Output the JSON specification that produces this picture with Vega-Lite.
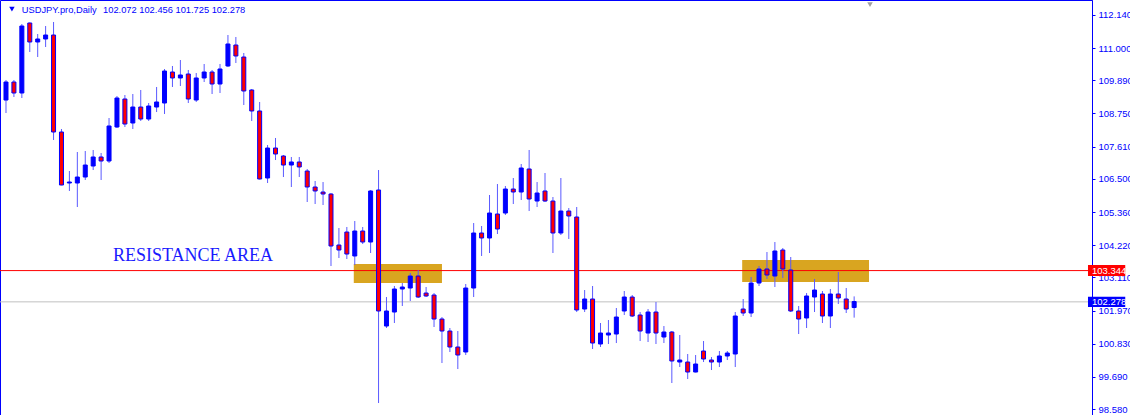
{
  "$schema": "https://vega.github.io/schema/vega-lite/v6.json",
  "width": 1092,
  "height": 415,
  "autosize": "none",
  "padding": {"left": 0, "top": 0, "right": 38, "bottom": 0},
  "background": "white",
  "config": {
    "view": {"stroke": "#0000ff", "strokeWidth": 1},
    "axisY": {"orient": "right", "format": ".3f", "grid": false, "domainColor": "#0000ff", "tickColor": "#0000ff", "tickSize": 3,
      "labelColor": "#0000ff", "labelFont": "Liberation Sans", "labelFontSize": 9.5, "labelPadding": 3,
      "labelFlush": false, "labelOverlap": false, "labelBound": false}
  },
  "datasets": {
    "candles": [
      {"i":1,"o":109.214,"h":109.903,"l":108.767,"c":109.834},
      {"i":2,"o":109.834,"h":109.903,"l":109.318,"c":109.455},
      {"i":3,"o":109.455,"h":111.830,"l":109.283,"c":111.761},
      {"i":4,"o":111.864,"h":111.880,"l":110.866,"c":111.211},
      {"i":5,"o":111.211,"h":111.486,"l":110.694,"c":111.314},
      {"i":6,"o":111.314,"h":111.761,"l":111.038,"c":111.451},
      {"i":7,"o":111.451,"h":111.899,"l":107.838,"c":108.113},
      {"i":8,"o":108.113,"h":108.216,"l":106.280,"c":106.289},
      {"i":9,"o":106.358,"h":106.771,"l":106.083,"c":106.392},
      {"i":10,"o":106.358,"h":107.425,"l":105.532,"c":106.564},
      {"i":11,"o":106.564,"h":107.459,"l":106.461,"c":106.977},
      {"i":12,"o":106.943,"h":107.494,"l":106.805,"c":107.253},
      {"i":13,"o":107.253,"h":107.390,"l":106.461,"c":107.115},
      {"i":14,"o":107.115,"h":108.595,"l":107.046,"c":108.320},
      {"i":15,"o":108.285,"h":109.352,"l":108.251,"c":109.283},
      {"i":16,"o":109.249,"h":109.386,"l":108.285,"c":108.388},
      {"i":17,"o":108.423,"h":109.421,"l":108.216,"c":108.973},
      {"i":18,"o":108.973,"h":109.559,"l":108.492,"c":108.560},
      {"i":19,"o":108.560,"h":109.111,"l":108.492,"c":109.008},
      {"i":20,"o":108.973,"h":109.662,"l":108.801,"c":109.146},
      {"i":21,"o":109.111,"h":110.281,"l":108.733,"c":110.212},
      {"i":22,"o":110.178,"h":110.385,"l":109.662,"c":109.972},
      {"i":23,"o":109.972,"h":110.591,"l":109.696,"c":110.075},
      {"i":24,"o":110.109,"h":110.247,"l":109.111,"c":109.249},
      {"i":25,"o":109.214,"h":110.144,"l":109.146,"c":109.972},
      {"i":26,"o":109.972,"h":110.453,"l":109.834,"c":110.178},
      {"i":27,"o":110.178,"h":110.247,"l":109.421,"c":109.765},
      {"i":28,"o":109.765,"h":110.453,"l":109.455,"c":110.281},
      {"i":29,"o":110.385,"h":111.451,"l":110.350,"c":111.142},
      {"i":30,"o":111.107,"h":111.383,"l":110.488,"c":110.729},
      {"i":31,"o":110.694,"h":110.832,"l":109.042,"c":109.524},
      {"i":32,"o":109.559,"h":109.593,"l":108.492,"c":108.836},
      {"i":33,"o":108.836,"h":109.146,"l":106.480,"c":106.496},
      {"i":34,"o":106.530,"h":107.666,"l":106.358,"c":107.562},
      {"i":35,"o":107.562,"h":107.907,"l":107.149,"c":107.356},
      {"i":36,"o":107.287,"h":107.322,"l":106.564,"c":106.977},
      {"i":37,"o":106.977,"h":107.253,"l":106.220,"c":107.081},
      {"i":38,"o":107.081,"h":107.253,"l":106.564,"c":106.909},
      {"i":39,"o":106.771,"h":106.840,"l":105.704,"c":106.220},
      {"i":40,"o":106.220,"h":106.427,"l":105.635,"c":106.083},
      {"i":41,"o":106.048,"h":106.392,"l":105.601,"c":105.979},
      {"i":42,"o":105.979,"h":106.014,"l":103.501,"c":104.190},
      {"i":43,"o":104.224,"h":104.809,"l":103.777,"c":104.052},
      {"i":44,"o":104.671,"h":104.844,"l":103.742,"c":103.914},
      {"i":45,"o":103.846,"h":105.050,"l":103.536,"c":104.706},
      {"i":46,"o":104.706,"h":104.844,"l":104.258,"c":104.327},
      {"i":47,"o":104.327,"h":106.117,"l":103.949,"c":106.083},
      {"i":48,"o":106.117,"h":106.805,"l":98.786,"c":101.953},
      {"i":49,"o":101.436,"h":102.434,"l":101.368,"c":101.953},
      {"i":50,"o":101.918,"h":102.813,"l":101.540,"c":102.710},
      {"i":51,"o":102.710,"h":102.916,"l":102.125,"c":102.779},
      {"i":52,"o":102.744,"h":103.260,"l":102.297,"c":103.157},
      {"i":53,"o":103.157,"h":103.364,"l":102.400,"c":102.434},
      {"i":54,"o":102.572,"h":102.779,"l":102.434,"c":102.469},
      {"i":55,"o":102.503,"h":102.572,"l":101.402,"c":101.677},
      {"i":56,"o":101.677,"h":101.746,"l":100.163,"c":101.264},
      {"i":57,"o":101.264,"h":101.368,"l":100.542,"c":100.714},
      {"i":58,"o":100.714,"h":101.264,"l":99.956,"c":100.438},
      {"i":59,"o":100.542,"h":102.882,"l":100.438,"c":102.744},
      {"i":60,"o":102.744,"h":104.981,"l":102.434,"c":104.637},
      {"i":61,"o":104.637,"h":104.878,"l":103.846,"c":104.465},
      {"i":62,"o":104.465,"h":105.945,"l":103.949,"c":105.325},
      {"i":63,"o":105.291,"h":106.323,"l":104.603,"c":104.775},
      {"i":64,"o":105.325,"h":106.255,"l":105.257,"c":106.151},
      {"i":65,"o":106.151,"h":106.530,"l":105.635,"c":106.048},
      {"i":66,"o":106.048,"h":107.012,"l":105.773,"c":106.874},
      {"i":67,"o":106.840,"h":107.494,"l":105.394,"c":105.807},
      {"i":68,"o":105.738,"h":106.392,"l":105.532,"c":106.014},
      {"i":69,"o":106.083,"h":106.702,"l":105.704,"c":105.738},
      {"i":70,"o":105.738,"h":105.876,"l":103.949,"c":104.637},
      {"i":71,"o":104.637,"h":106.530,"l":104.568,"c":105.394},
      {"i":72,"o":105.394,"h":105.497,"l":104.431,"c":105.222},
      {"i":73,"o":105.188,"h":105.532,"l":101.918,"c":101.987},
      {"i":74,"o":102.021,"h":102.675,"l":101.918,"c":102.366},
      {"i":75,"o":102.366,"h":102.813,"l":100.645,"c":100.851},
      {"i":76,"o":100.817,"h":101.540,"l":100.714,"c":101.195},
      {"i":77,"o":101.127,"h":101.643,"l":100.817,"c":101.195},
      {"i":78,"o":101.161,"h":102.056,"l":100.851,"c":101.746},
      {"i":79,"o":101.953,"h":102.641,"l":101.815,"c":102.434},
      {"i":80,"o":102.434,"h":102.503,"l":101.746,"c":101.781},
      {"i":81,"o":101.815,"h":101.918,"l":100.920,"c":101.264},
      {"i":82,"o":101.195,"h":102.021,"l":100.886,"c":101.918},
      {"i":83,"o":101.918,"h":102.262,"l":100.817,"c":101.195},
      {"i":84,"o":101.058,"h":101.436,"l":100.851,"c":101.230},
      {"i":85,"o":101.230,"h":101.264,"l":99.475,"c":100.232},
      {"i":86,"o":100.197,"h":101.127,"l":100.025,"c":100.266},
      {"i":87,"o":100.197,"h":100.473,"l":99.612,"c":99.853},
      {"i":88,"o":99.853,"h":100.438,"l":99.840,"c":100.129},
      {"i":89,"o":100.576,"h":100.920,"l":100.197,"c":100.301},
      {"i":90,"o":100.266,"h":100.369,"l":99.922,"c":100.197},
      {"i":91,"o":100.197,"h":100.576,"l":100.025,"c":100.404},
      {"i":92,"o":100.404,"h":100.576,"l":100.266,"c":100.507},
      {"i":93,"o":100.473,"h":101.918,"l":100.025,"c":101.781},
      {"i":94,"o":102.021,"h":102.366,"l":101.781,"c":101.884},
      {"i":95,"o":101.884,"h":103.123,"l":101.746,"c":102.916},
      {"i":96,"o":102.916,"h":103.501,"l":102.813,"c":103.398},
      {"i":97,"o":103.398,"h":103.983,"l":103.054,"c":103.192},
      {"i":98,"o":103.157,"h":104.327,"l":102.779,"c":104.018},
      {"i":99,"o":104.052,"h":104.121,"l":103.088,"c":103.398},
      {"i":100,"o":103.364,"h":103.811,"l":101.918,"c":101.953},
      {"i":101,"o":101.953,"h":102.125,"l":101.161,"c":101.677},
      {"i":102,"o":101.712,"h":102.572,"l":101.368,"c":102.469},
      {"i":103,"o":102.434,"h":103.054,"l":101.918,"c":102.675},
      {"i":104,"o":102.538,"h":102.641,"l":101.540,"c":101.781},
      {"i":105,"o":101.781,"h":102.710,"l":101.368,"c":102.538},
      {"i":106,"o":102.538,"h":103.295,"l":102.194,"c":102.400},
      {"i":107,"o":102.366,"h":102.744,"l":101.884,"c":102.021},
      {"i":108,"o":102.072,"h":102.456,"l":101.725,"c":102.278}
    ],
    "zones": [
      {"x1": 44.875, "x2": 56.0, "y1": 103.570, "y2": 102.916},
      {"x1": 93.875, "x2": 109.875, "y1": 103.708, "y2": 102.951}
    ],
    "levels": [
      {"y": 103.344, "col": "#ff0000"},
      {"y": 102.268, "col": "#c0c0c0"}
    ],
    "tags": [
      {"x1": 137.5, "x2": 142.2, "y1": 103.536, "y2": 103.157, "y": 103.344, "label": "103.344", "col": "#ff0000"},
      {"x1": 137.5, "x2": 142.2, "y1": 102.446, "y2": 102.090, "y": 102.268, "label": "102.278", "col": "#0000ff"}
    ]
  },
  "layer": [
    {
      "data": {"name": "zones"},
      "mark": {"type": "rect", "color": "#d9a520"},
      "encoding": {
        "x": {"field": "x1", "type": "quantitative", "scale": {"domain": [0.875, 137.375], "nice": false, "zero": false}, "axis": null},
        "x2": {"field": "x2"},
        "y": {"field": "y1", "type": "quantitative", "title": null, "scale": {"domain": [98.374, 112.656], "nice": false, "zero": false},
          "axis": {"values": [112.14, 111.0, 109.89, 108.75, 107.61, 106.5, 105.36, 104.22, 103.11, 101.97, 100.83, 99.69, 98.58]}},
        "y2": {"field": "y2"}
      }
    },
    {
      "data": {"name": "levels"},
      "mark": {"type": "rule", "strokeWidth": 1},
      "encoding": {
        "y": {"field": "y", "type": "quantitative", "title": null,
          "axis": {"values": [112.14, 111.0, 109.89, 108.75, 107.61, 106.5, 105.36, 104.22, 103.11, 101.97, 100.83, 99.69, 98.58]}},
        "color": {"field": "col", "type": "nominal", "scale": null}
      }
    },
    {
      "data": {"name": "candles"},
      "mark": {"type": "rule", "color": "#5a5aff", "strokeWidth": 1},
      "encoding": {
        "x": {"field": "i", "type": "quantitative", "axis": null},
        "y": {"field": "l", "type": "quantitative", "title": null,
          "axis": {"values": [112.14, 111.0, 109.89, 108.75, 107.61, 106.5, 105.36, 104.22, 103.11, 101.97, 100.83, 99.69, 98.58]}},
        "y2": {"field": "h"}
      }
    },
    {
      "data": {"name": "candles"},
      "mark": {"type": "bar", "width": 4, "stroke": "#0000ff", "strokeWidth": 1},
      "encoding": {
        "x": {"field": "i", "type": "quantitative", "axis": null},
        "y": {"field": "o", "type": "quantitative", "title": null,
          "axis": {"values": [112.14, 111.0, 109.89, 108.75, 107.61, 106.5, 105.36, 104.22, 103.11, 101.97, 100.83, 99.69, 98.58]}},
        "y2": {"field": "c"},
        "fill": {"condition": {"test": "datum.c >= datum.o", "value": "#0000ff"}, "value": "#ff0000"}
      }
    },
    {
      "data": {"values": [{"x": 14.5, "y": 103.673, "t": "RESISTANCE AREA"}]},
      "mark": {"type": "text", "align": "left", "baseline": "alphabetic", "font": "Liberation Serif", "fontSize": 18, "color": "#1a1aff"},
      "encoding": {
        "x": {"field": "x", "type": "quantitative", "axis": null},
        "y": {"field": "y", "type": "quantitative", "title": null,
          "axis": {"values": [112.14, 111.0, 109.89, 108.75, 107.61, 106.5, 105.36, 104.22, 103.11, 101.97, 100.83, 99.69, 98.58]}},
        "text": {"field": "t"}
      }
    },
    {
      "data": {"values": [{"x": 3.0, "y": 112.312, "t": "USDJPY.pro,Daily"}, {"x": 13.25, "y": 112.312, "t": "102.072 102.456 101.725 102.278"}]},
      "mark": {"type": "text", "align": "left", "baseline": "middle", "font": "Liberation Sans", "fontSize": 9.3, "color": "#0000ff"},
      "encoding": {
        "x": {"field": "x", "type": "quantitative", "axis": null},
        "y": {"field": "y", "type": "quantitative", "title": null,
          "axis": {"values": [112.14, 111.0, 109.89, 108.75, 107.61, 106.5, 105.36, 104.22, 103.11, 101.97, 100.83, 99.69, 98.58]}},
        "text": {"field": "t"}
      }
    },
    {
      "data": {"values": [{"x": 1.75, "y": 112.345, "c": "#0000ff"}, {"x": 110.0, "y": 112.501, "c": "#a0a0a0"}]},
      "mark": {"type": "point", "shape": "triangle-down", "filled": true, "size": 30, "opacity": 1},
      "encoding": {
        "x": {"field": "x", "type": "quantitative", "axis": null},
        "y": {"field": "y", "type": "quantitative", "title": null,
          "axis": {"values": [112.14, 111.0, 109.89, 108.75, 107.61, 106.5, 105.36, 104.22, 103.11, 101.97, 100.83, 99.69, 98.58]}},
        "color": {"field": "c", "type": "nominal", "scale": null}
      }
    },
    {
      "data": {"name": "tags"},
      "mark": {"type": "rect"},
      "encoding": {
        "x": {"field": "x1", "type": "quantitative", "axis": null},
        "x2": {"field": "x2"},
        "y": {"field": "y1", "type": "quantitative", "title": null,
          "axis": {"values": [112.14, 111.0, 109.89, 108.75, 107.61, 106.5, 105.36, 104.22, 103.11, 101.97, 100.83, 99.69, 98.58]}},
        "y2": {"field": "y2"},
        "fill": {"field": "col", "type": "nominal", "scale": null}
      }
    },
    {
      "data": {"name": "tags"},
      "mark": {"type": "text", "align": "left", "baseline": "middle", "font": "Liberation Sans", "fontSize": 9.5, "color": "#ffffff", "dx": 4},
      "encoding": {
        "x": {"field": "x1", "type": "quantitative", "axis": null},
        "y": {"field": "y", "type": "quantitative", "title": null,
          "axis": {"values": [112.14, 111.0, 109.89, 108.75, 107.61, 106.5, 105.36, 104.22, 103.11, 101.97, 100.83, 99.69, 98.58]}},
        "text": {"field": "label"}
      }
    }
  ]
}
